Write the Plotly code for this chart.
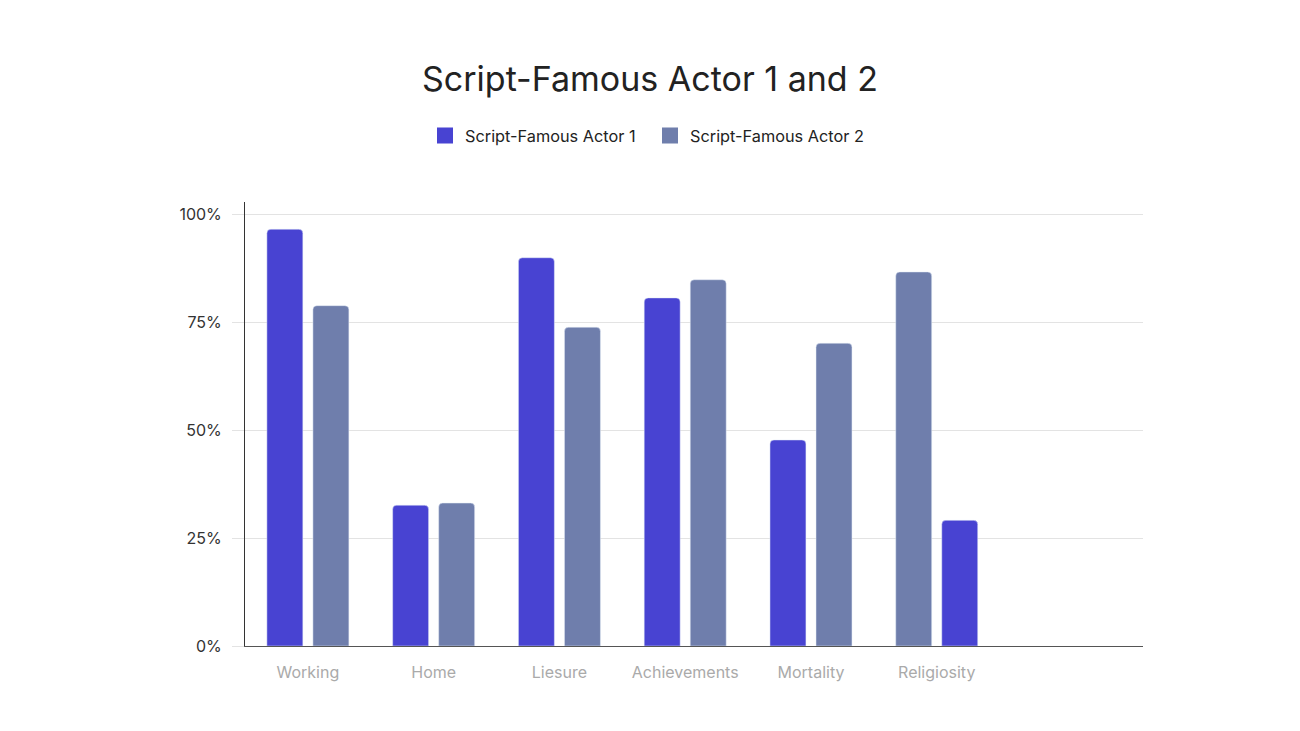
import plotly.graph_objects as go

# share of script per theme
categories = ["Working", "Home", "Liesure", "Achievements", "Mortality", "Religiosity"]
actor_1 = [0.965, 0.326, 0.899, 0.806, 0.477, 0.291]
actor_2 = [0.788, 0.331, 0.738, 0.848, 0.701, 0.866]
# in the last group the source draws actor 2 on the left
swapped = [False, False, False, False, False, True]

y_ticks = [0, 0.25, 0.5, 0.75, 1.0]
y_ticktext = ["0%", "25%", "50%", "75%", "100%"]

names = ["Script-Famous Actor 1", "Script-Famous Actor 2"]
BLUE = "#4843d2"
GREY = "#6f7eac"
BAR_W = 0.286
LEFT = -0.326
RIGHT = 0.04
PAGE = 8  # body margin of the html page


def offsets(first):
    out = []
    for s in swapped:
        left_side = first != s
        out.append(LEFT if left_side else RIGHT)
    return out


fig = go.Figure()
for vals, first, name, col in [(actor_1, True, names[0], BLUE),
                               (actor_2, False, names[1], GREY)]:
    fig.add_trace(go.Bar(
        x=categories, y=vals, name=name, legendgroup=name, showlegend=False,
        marker=dict(color=col, cornerradius=4),
        width=BAR_W, offset=offsets(first),
    ))
    # legend entry with a bigger square swatch
    fig.add_trace(go.Scatter(
        x=[None], y=[None], mode="markers", name=name, legendgroup=name,
        marker=dict(symbol="square", size=16, color=col),
    ))

fig.update_layout(
    width=1300, height=731,
    barmode="overlay",
    paper_bgcolor="white", plot_bgcolor="white",
    font=dict(family="Inter, Roboto, sans-serif", size=16, color="#333333"),
    margin=dict(l=245 - PAGE, r=157 + PAGE, t=202 - PAGE, b=85 + PAGE),
    title=dict(text="Script-Famous Actor 1 and 2", x=(650 - PAGE) / 1300, xref="container",
               y=1 - (79 - PAGE) / 731, yref="container", yanchor="middle", xanchor="center",
               font=dict(size=34, color="#222222")),
    legend=dict(orientation="h", x=(650 - PAGE) / 1300, xref="container", xanchor="center",
                y=1 - (136 - PAGE) / 731, yref="container", yanchor="middle",
                font=dict(size=16.3, color="#222222"), itemwidth=30,
                entrywidth=180, traceorder="normal"),
    showlegend=True,
)
fig.update_xaxes(
    type="category", range=[-0.5, 6.64],
    showline=True, linecolor="#555555", linewidth=1.2,
    showgrid=False, ticks="outside", ticklen=12, tickcolor="rgba(0,0,0,0)",
    tickfont=dict(size=16, color="#aaaaaa"),
)
fig.update_yaxes(
    range=[0, 1.028], tickvals=y_ticks, ticktext=y_ticktext,
    showline=True, linecolor="#333333", linewidth=1,
    showgrid=True, gridcolor="#e3e3e3", gridwidth=1, zeroline=False,
    ticks="outside", ticklen=12, tickcolor="#e3e3e3", ticklabelstandoff=7,
    tickfont=dict(size=16, color="#333333"),
)

fig.write_html("out.html")
